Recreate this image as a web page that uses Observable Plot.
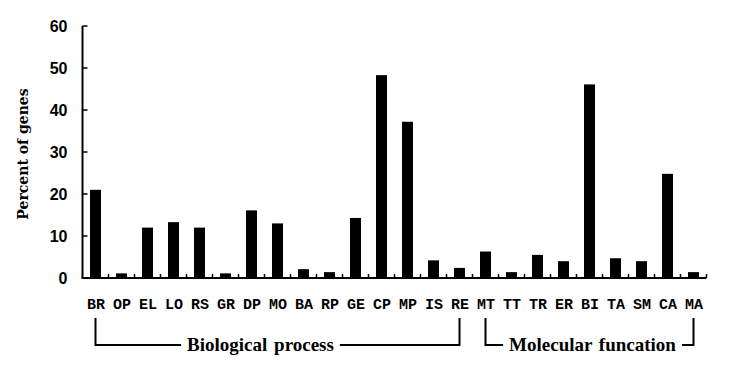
<!DOCTYPE html>
<html>
<head>
<meta charset="utf-8">
<script src="https://cdn.jsdelivr.net/npm/d3@7"></script>
<script src="https://cdn.jsdelivr.net/npm/@observablehq/plot@0.6"></script>
<style>
  html, body { margin: 0; padding: 0; background: #fff; }
</style>
</head>
<body>
<div id="chart"></div>
<script>
// Data
const bioCategories = ["BR","OP","EL","LO","RS","GR","DP","MO","BA","RP","GE","CP","MP","IS","RE"];
const bioValues     = [21.0, 1.1, 12.0, 13.3, 12.0, 1.1, 16.1, 13.0, 2.1, 1.4, 14.3, 48.3, 37.2, 4.2, 2.4];
const molCategories = ["MT","TT","TR","ER","BI","TA","SM","CA","MA"];
const molValues     = [6.3, 1.4, 5.5, 4.0, 46.1, 4.7, 4.0, 24.8, 1.4];
const groupLabels   = ["Biological process", "Molecular funcation"];
const yTicks        = [0, 10, 20, 30, 40, 50, 60];
const yLabel        = "Percent of genes";

const categories = bioCategories.concat(molCategories);
const data = categories.map((c, i) => ({
  cat: c,
  value: i < bioValues.length ? bioValues[i] : molValues[i - bioValues.length]
}));

const W = 746, H = 380;
const plot = Plot.plot({
  width: W,
  height: H,
  marginLeft: 80,
  marginRight: 36,
  marginTop: 26,
  marginBottom: 102,
  style: { background: "#fff", color: "#000", overflow: "visible" },
  x: { domain: categories, paddingInner: 0.56, paddingOuter: 0, align: 0.5, label: null },
  y: { domain: [0, 60], label: null },
  marks: [
    Plot.barY(data, { x: "cat", y: "value", fill: "#000" }),
    Plot.axisX({ tickSize: 0, tickPadding: 20, fontSize: 15, fontFamily: "Liberation Mono", fontWeight: "bold", fill: "#000" }),
    Plot.axisY(yTicks, { tickSize: 0, tickPadding: 13, fontSize: 16, fontFamily: "Liberation Sans", fontWeight: "bold", fill: "#000", label: null })
  ]
});
document.getElementById("chart").appendChild(plot);

const svg = d3.select(plot);
const xs = plot.scale("x");
const ys = plot.scale("y");
const step = xs.step, bw = xs.bandwidth;
const center = c => xs.apply(c) + bw / 2;
const x0 = center(categories[0]) - step / 2;
const x1 = center(categories[categories.length - 1]) + step / 2;
const y0 = ys.apply(0), yTop = ys.apply(60);

const g = svg.append("g").attr("stroke", "#000").attr("fill", "none");
// y axis line
g.append("line").attr("x1", x0).attr("x2", x0).attr("y1", yTop).attr("y2", y0).attr("stroke-width", 2);
// x axis line
g.append("line").attr("x1", x0 - 1).attr("x2", x1).attr("y1", y0).attr("y2", y0).attr("stroke-width", 2);
// inward y ticks
yTicks.forEach(t => {
  g.append("line").attr("x1", x0).attr("x2", x0 + 5).attr("y1", ys.apply(t)).attr("y2", ys.apply(t)).attr("stroke-width", 1.5);
});
// inward x ticks at band boundaries
categories.forEach(c => {
  const bx = center(c) + step / 2;
  g.append("line").attr("x1", bx).attr("x2", bx).attr("y1", y0).attr("y2", y0 - 4).attr("stroke-width", 1.5);
});

// y axis title
svg.append("text")
  .attr("transform", `translate(23,${(yTop + y0) / 2 + 2}) rotate(-90)`)
  .attr("text-anchor", "middle")
  .attr("dy", "0.35em")
  .attr("font-family", "DejaVu Serif")
  .attr("font-weight", "bold")
  .attr("font-size", 14)
  .attr("fill", "#000")
  .text(yLabel);

// group brackets
const groups = [
  { label: groupLabels[0], first: bioCategories[0], last: bioCategories[bioCategories.length - 1], shift: -17 },
  { label: groupLabels[1], first: molCategories[0], last: molCategories[molCategories.length - 1], shift: 3 }
];
const bTop = 318, bBot = 345;
groups.forEach(gr => {
  const a = center(gr.first), b = center(gr.last);
  const mid = (a + b) / 2 + gr.shift;
  const t = svg.append("text")
    .attr("x", mid).attr("y", bBot).attr("dy", "0.3em")
    .attr("text-anchor", "middle")
    .attr("font-family", "Liberation Serif")
    .attr("font-weight", "bold")
    .attr("font-size", 19)
    .attr("word-spacing", 2)
    .attr("fill", "#000")
    .text(gr.label);
  const len = t.node().getComputedTextLength();
  const gap = 6;
  g.append("path")
    .attr("d", `M${a},${bTop}V${bBot}H${mid - len / 2 - gap}`)
    .attr("stroke-width", 2);
  g.append("path")
    .attr("d", `M${mid + len / 2 + gap},${bBot}H${b}V${bTop}`)
    .attr("stroke-width", 2);
});
</script>
</body>
</html>
